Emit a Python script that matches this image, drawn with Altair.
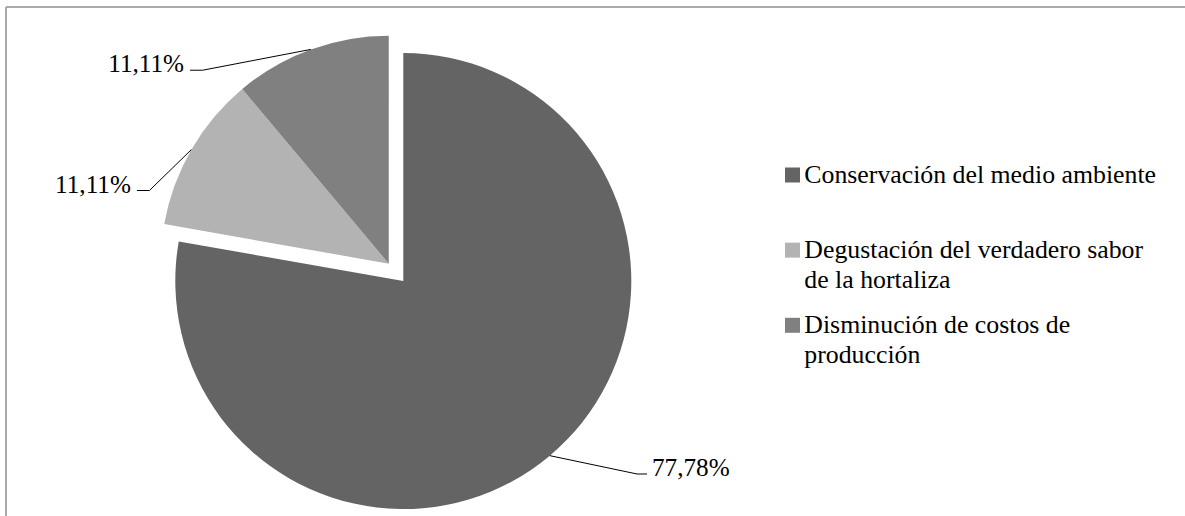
import math
import altair as alt
import pandas as pd

# ---- data ----
categorias = [
    "Conservación del medio ambiente",
    "Degustación del verdadero sabor de la hortaliza",
    "Disminución de costos de producción",
]
porcentajes = [77.78, 11.11, 11.11]
etiquetas = ["77,78%", "11,11%", "11,11%"]
leyenda = [
    "Conservación del medio ambiente",
    "Degustación del verdadero sabor\nde la hortaliza",
    "Disminución de costos de\nproducción",
]
orden = [1, 2, 3]

# ---- styles / layout ----
colores = ["#646464", "#b3b3b3", "#808080"]
FONT = "Liberation Serif"
W, H = 1179, 509
CX, CY = 397.3, 274.0          # pie centre
R = 228                        # pie radius
EXPLODE = 22.6                 # separation of the two small slices
EXPLODE_ANG = math.radians(320)
DX = EXPLODE * math.sin(EXPLODE_ANG)
DY = -EXPLODE * math.cos(EXPLODE_ANG)
# leader-line elbows (angle in degrees, radius) for each slice, in order
codo_ang = [129.55, 287.0, 316.1]
codo_rad = [303.1, 250.3, 268.5]

df = pd.DataFrame({
    "categoria": categorias,
    "valor": porcentajes,
    "etiqueta": etiquetas,
    "leyenda": leyenda,
    "orden": orden,
})

base = alt.Chart(df).transform_window(
    fin="sum(valor)", sort=[alt.SortField("orden")], frame=[None, 0]
).transform_joinaggregate(
    total="sum(valor)"
).transform_calculate(
    inicio="datum.fin - datum.valor"
)

theta_scale = alt.Scale(domain=[0, 100], range=[0, 2 * math.pi])
color = alt.Color("categoria:N", scale=alt.Scale(domain=categorias, range=colores), legend=None)

big = base.transform_filter("datum.orden == 1").mark_arc(outerRadius=R, stroke=None).encode(
    theta=alt.Theta("inicio:Q", scale=theta_scale, stack=None),
    theta2="fin:Q",
    color=color,
    x=alt.value(CX), y=alt.value(CY),
)
small = base.transform_filter("datum.orden > 1").mark_arc(outerRadius=R, stroke=None).encode(
    theta=alt.Theta("inicio:Q", scale=theta_scale, stack=None),
    theta2="fin:Q",
    color=color,
    x=alt.value(CX + DX), y=alt.value(CY + DY),
)

ang_arr = "[" + ",".join(str(a) for a in codo_ang) + "]"
rad_arr = "[" + ",".join(str(r) for r in codo_rad) + "]"
geo = base.transform_calculate(
    cx=f"datum.orden == 1 ? {CX} : {CX + DX}",
    cy=f"datum.orden == 1 ? {CY} : {CY + DY}",
    a="(datum.inicio + datum.valor / 2) / datum.total * 2 * PI",
).transform_calculate(
    ex=f"datum.cx + {R} * sin(datum.a)",
    ey=f"datum.cy - {R} * cos(datum.a)",
    la=f"{ang_arr}[datum.orden - 1] * PI / 180",
    lr=f"{rad_arr}[datum.orden - 1]",
).transform_calculate(
    bx="datum.cx + datum.lr * sin(datum.la)",
    by="datum.cy - datum.lr * cos(datum.la)",
    lado="sin(datum.la) < 0 ? -1 : 1",
).transform_calculate(
    hx="datum.bx + (datum.lado < 0 ? -12.5 : 10)",
).transform_calculate(
    tx="datum.hx + (datum.lado < 0 ? -6 : 5)",
    ty="datum.by + 2",
    alin="datum.lado < 0 ? 'right' : 'left'",
)

leader1 = geo.mark_rule(color="black", strokeWidth=1).encode(
    x=alt.X("ex:Q", scale=None, axis=None), y=alt.Y("ey:Q", scale=None, axis=None),
    x2="bx:Q", y2="by:Q",
)
leader2 = geo.mark_rule(color="black", strokeWidth=1).encode(
    x=alt.X("bx:Q", scale=None, axis=None), y=alt.Y("by:Q", scale=None, axis=None),
    x2="hx:Q", y2="by:Q",
)
lab_left = geo.transform_filter("datum.lado < 0").mark_text(
    font=FONT, fontSize=25.2, color="black", align="right", baseline="alphabetic"
).encode(
    x=alt.X("tx:Q", scale=None, axis=None), y=alt.Y("ty:Q", scale=None, axis=None),
    text="etiqueta:N",
)
lab_right = geo.transform_filter("datum.lado > 0").mark_text(
    font=FONT, fontSize=25.2, color="black", align="left", baseline="alphabetic"
).encode(
    x=alt.X("tx:Q", scale=None, axis=None), y=alt.Y("ty:Q", scale=None, axis=None),
    text="etiqueta:N",
)

# ---- legend ----
leg = alt.Chart(df).transform_calculate(
    ly="168 + (datum.orden - 1) * 75.15"
)
leg_sym = leg.mark_square(size=225, opacity=1).encode(
    x=alt.value(786.5),
    y=alt.Y("ly:Q", scale=None, axis=None),
    color=color,
)
leg_txt = leg.transform_calculate(lt="datum.ly + 7.5").mark_text(
    font=FONT, fontSize=25.8, color="black", align="left", baseline="alphabetic",
    lineBreak="\n", lineHeight=30,
).encode(
    x=alt.value(798.3),
    y=alt.Y("lt:Q", scale=None, axis=None),
    text="leyenda:N",
)

# ---- frame (top and left border) ----
one = alt.Data(values=[{}])
frame_top = alt.Chart(one).mark_rule(color="#aaaaaa", strokeWidth=2).encode(
    x=alt.value(0), x2=alt.value(W), y=alt.value(0)
)
frame_left = alt.Chart(one).mark_rule(color="#aaaaaa", strokeWidth=2).encode(
    x=alt.value(0), y=alt.value(0), y2=alt.value(H)
)

chart = alt.layer(
    big, small, leader1, leader2, lab_left, lab_right, leg_sym, leg_txt, frame_top, frame_left
).properties(
    width=W, height=H, autosize="none",
    padding={"left": 6, "top": 7, "right": 0, "bottom": 0},
    background="white",
).configure_view(stroke=None)

chart.save("out.html", embed_options={"renderer": "svg", "actions": False})
